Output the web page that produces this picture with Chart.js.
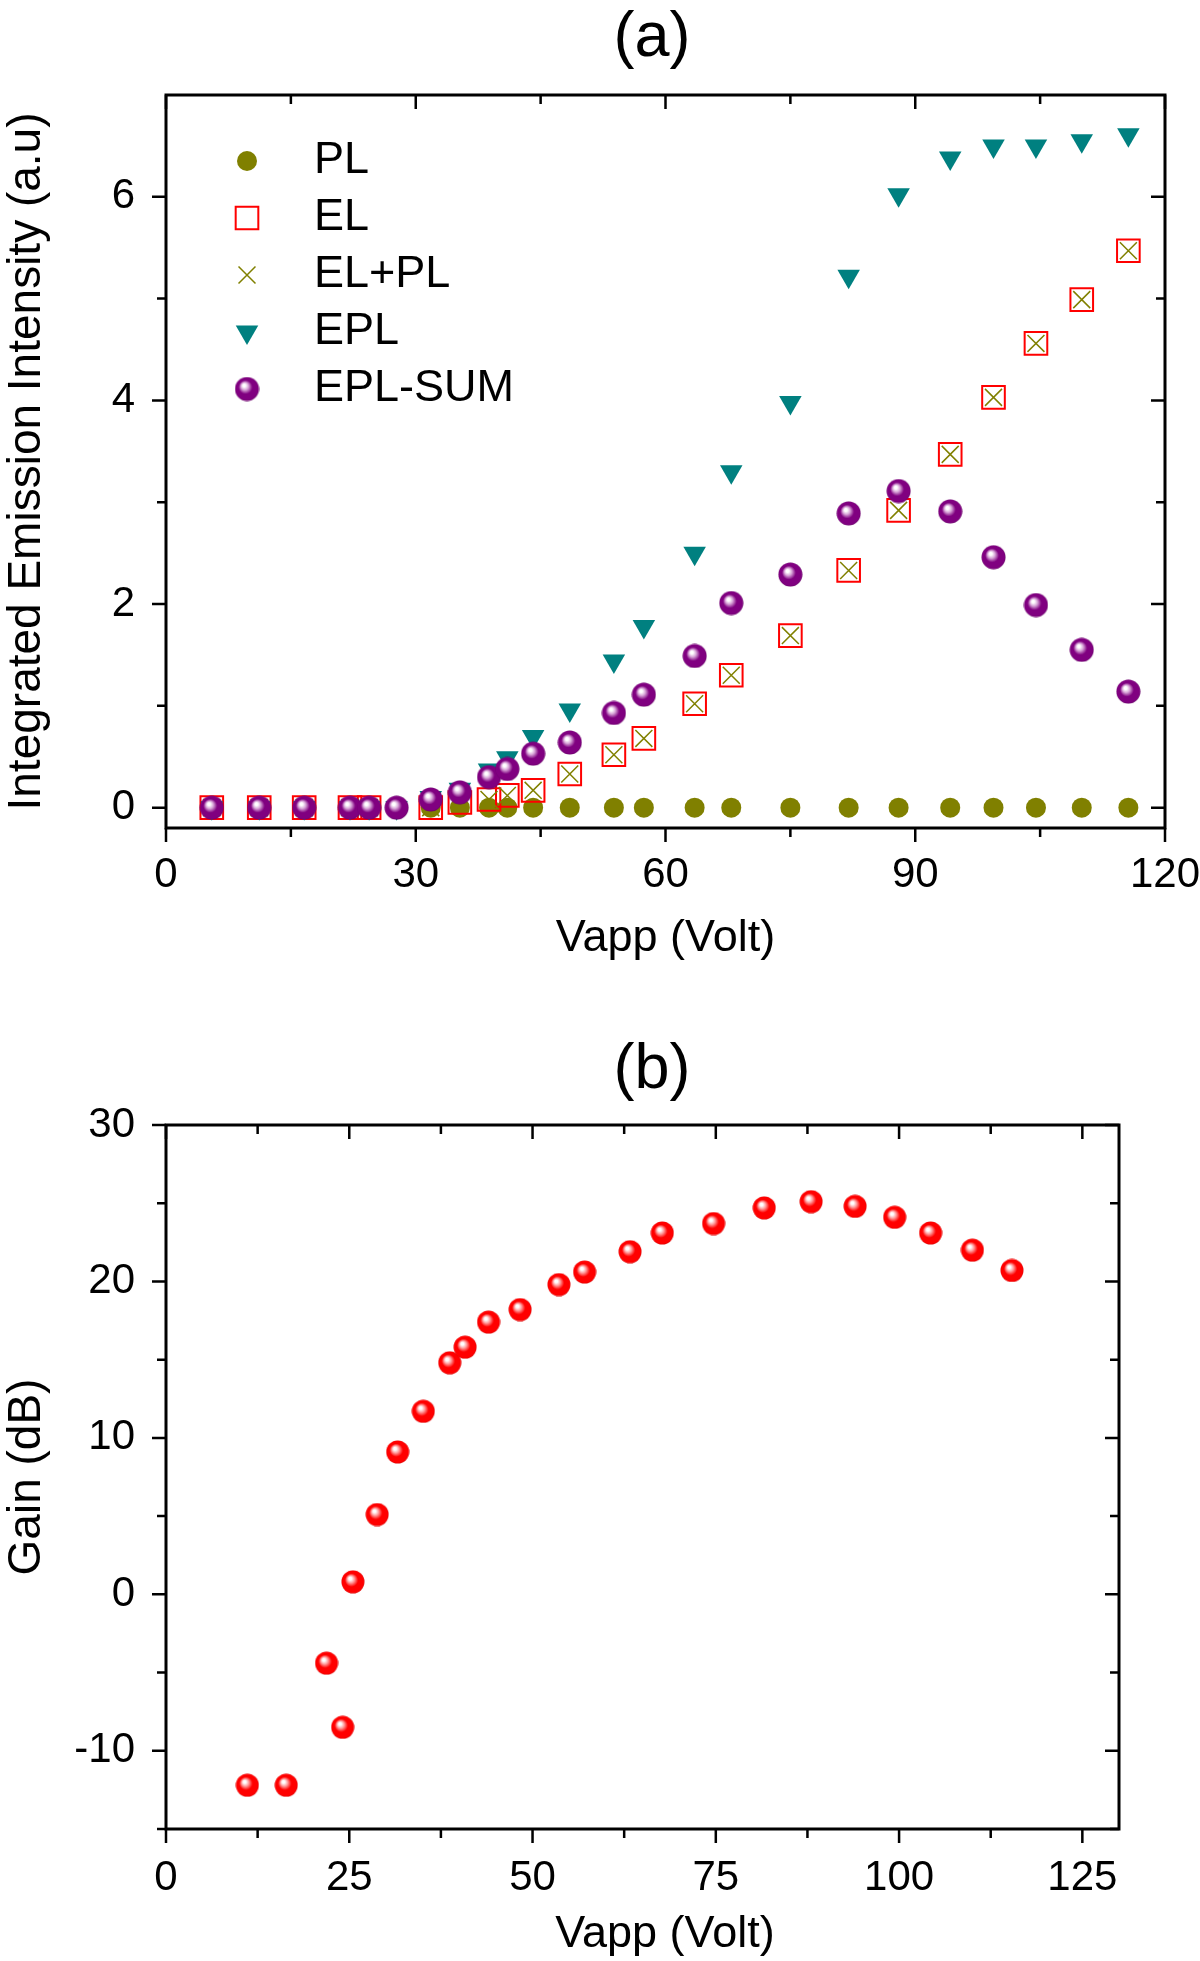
<!DOCTYPE html>
<html lang="en">
<head>
<meta charset="UTF-8">
<title>Emission intensity and gain vs Vapp</title>
<script src="https://cdn.jsdelivr.net/npm/chart.js"></script>
<style>
  body { margin: 0; background: #fff; }
  canvas { display: block; }
</style>
</head>
<body>
<canvas id="chartA" width="1200" height="980"></canvas>
<canvas id="chartB" width="1200" height="981"></canvas>
<script>
// ---- panel (a): integrated emission intensity ----
const vappA = [5.5, 11.2, 16.6, 22.1, 24.4, 27.7, 31.8, 35.3, 38.8, 41.0, 44.1, 48.5,
               53.8, 57.4, 63.5, 67.9, 75.0, 82.0, 88.0, 94.2, 99.4, 104.5, 110.0, 115.6];
const plVals     = [0, 0, 0, 0, 0, 0, 0, 0, 0, 0, 0, 0, 0, 0, 0, 0, 0, 0, 0, 0, 0, 0, 0, 0];
const elVals     = [0, 0, 0, 0, 0, null, 0.0, 0.05, 0.08, 0.12, 0.17, 0.33,
                    0.52, 0.68, 1.02, 1.30, 1.69, 2.33, 2.92, 3.47, 4.03, 4.56, 4.99, 5.47];
const elPlVals   = [0, 0, 0, 0, 0, null, 0.0, 0.05, 0.08, 0.12, 0.17, 0.33,
                    0.52, 0.68, 1.02, 1.30, 1.69, 2.33, 2.92, 3.47, 4.03, 4.56, 4.99, 5.47];
const eplVals    = [0, 0, 0, 0, 0, 0, 0.10, 0.18, 0.37, 0.49, 0.70, 0.96,
                    1.44, 1.78, 2.50, 3.30, 3.98, 5.22, 6.02, 6.38, 6.50, 6.50, 6.55, 6.61];
const eplSumVals = [0, 0, 0, 0, 0, 0, 0.08, 0.15, 0.30, 0.38, 0.53, 0.64,
                    0.93, 1.11, 1.49, 2.01, 2.29, 2.89, 3.11, 2.91, 2.46, 1.99, 1.55, 1.14];
const xMajorA = [0, 30, 60, 90, 120];
const xMinorA = [15, 45, 75, 105];
const yMajorA = [0, 2, 4, 6];
const yMinorA = [1, 3, 5];

// ---- panel (b): gain ----
const vappB = [11.1, 16.4, 21.9, 24.1, 25.5, 28.8, 31.6, 35.1, 38.7, 40.8, 44.0, 48.3,
               53.6, 57.1, 63.3, 67.7, 74.7, 81.6, 88.0, 94.0, 99.4, 104.3, 110.0, 115.4];
const gainVals = [-12.2, -12.2, -4.4, -8.5, 0.8, 5.1, 9.1, 11.7, 14.8, 15.8, 17.4, 18.2,
                  19.8, 20.6, 21.9, 23.1, 23.7, 24.7, 25.1, 24.8, 24.1, 23.1, 22.0, 20.7];
const xMajorB = [0, 25, 50, 75, 100, 125];
const xMinorB = [12.5, 37.5, 62.5, 87.5, 112.5];
const yMajorB = [-10, 0, 10, 20, 30];
const yMinorB = [-15, -5, 5, 15, 25];

const FONT = '"Liberation Sans", Arial, Helvetica, sans-serif';
Chart.defaults.font.family = FONT;
Chart.defaults.color = '#000';

const pts = (xs, ys) => xs.map((x, i) => ({x: x, y: ys[i]}));

// shaded ball marker
function makeBall(d, light, base, dark) {
  const c = document.createElement('canvas');
  c.width = d; c.height = d;
  const g = c.getContext('2d');
  const r = d / 2;
  const grad = g.createRadialGradient(d * 0.37, d * 0.34, 0, r, r, r);
  grad.addColorStop(0, '#ffffff');
  grad.addColorStop(0.12, '#ffffff');
  grad.addColorStop(0.3, light);
  grad.addColorStop(0.55, base);
  grad.addColorStop(0.9, base);
  grad.addColorStop(1, dark);
  g.fillStyle = grad;
  g.beginPath();
  g.arc(r, r, r - 0.5, 0, Math.PI * 2);
  g.fill();
  return c;
}
const purpleBall = makeBall(25, '#d8a6d8', '#800080', '#5e005e');
const redBall = makeBall(24, '#ffa0a0', '#ff0000', '#d00000');

// box frame + major/minor ticks (outward bottom/left, inward top/right)
const frameTicks = {
  id: 'frameTicks',
  afterDraw(chart, args, o) {
    const {ctx, chartArea: a} = chart;
    const xs = chart.scales.x, ys = chart.scales.y;
    ctx.save();
    ctx.strokeStyle = '#000';
    ctx.lineWidth = 2.5;
    ctx.beginPath();
    const xt = o.xMajor.map(v => [v, 14]).concat(o.xMinor.map(v => [v, 9]));
    xt.forEach(([v, len]) => {
      const px = xs.getPixelForValue(v);
      ctx.moveTo(px, a.bottom); ctx.lineTo(px, a.bottom + len);
      ctx.moveTo(px, a.top); ctx.lineTo(px, a.top + len);
    });
    const yt = o.yMajor.map(v => [v, 14]).concat(o.yMinor.map(v => [v, 9]));
    yt.forEach(([v, len]) => {
      const py = ys.getPixelForValue(v);
      ctx.moveTo(a.left - len, py); ctx.lineTo(a.left, py);
      ctx.moveTo(a.right - len, py); ctx.lineTo(a.right, py);
    });
    ctx.stroke();
    ctx.lineWidth = 3;
    ctx.strokeRect(a.left, a.top, a.right - a.left, a.bottom - a.top);
    ctx.restore();
  }
};

// free text: panel letters etc.
const captions = {
  id: 'captions',
  afterDraw(chart, args, o) {
    const ctx = chart.ctx;
    ctx.save();
    ctx.fillStyle = '#000';
    ctx.textAlign = 'center';
    ctx.textBaseline = 'middle';
    o.items.forEach(t => {
      ctx.font = t.size + 'px ' + FONT;
      ctx.fillText(t.text, t.x, t.y);
    });
    ctx.restore();
  }
};

// legend inside the plot, one row per dataset
const insideLegend = {
  id: 'insideLegend',
  afterDraw(chart, args, o) {
    if (!o.display) return;
    const ctx = chart.ctx;
    ctx.save();
    chart.data.datasets.forEach((ds, i) => {
      const y = o.top + i * o.rowGap;
      ctx.fillStyle = ds.backgroundColor;
      ctx.strokeStyle = ds.borderColor;
      ctx.lineWidth = ds.borderWidth;
      Chart.helpers.drawPoint(ctx, {
        pointStyle: ds.pointStyle,
        radius: ds.pointRadius,
        rotation: ds.pointRotation || 0,
        borderWidth: ds.borderWidth
      }, o.markerX, y);
      ctx.fillStyle = '#000';
      ctx.font = o.size + 'px ' + FONT;
      ctx.textAlign = 'left';
      ctx.textBaseline = 'middle';
      ctx.fillText(ds.label, o.textX, y);
    });
    ctx.restore();
  }
};

function fixedTicks(values) {
  return scale => { scale.ticks = values.map(v => ({value: v})); };
}

new Chart(document.getElementById('chartA'), {
  type: 'scatter',
  data: {
    datasets: [
      { label: 'PL', data: pts(vappA, plVals), pointStyle: 'circle', pointRadius: 10,
        backgroundColor: '#808000', borderColor: '#808000', borderWidth: 0, order: 5 },
      { label: 'EL', data: pts(vappA, elVals), pointStyle: 'rect', pointRadius: 16,
        backgroundColor: 'rgba(0,0,0,0)', borderColor: '#ff0000', borderWidth: 2, order: 4 },
      { label: 'EL+PL', data: pts(vappA, elPlVals), pointStyle: 'crossRot', pointRadius: 12,
        backgroundColor: '#808000', borderColor: '#808000', borderWidth: 1.5, order: 3 },
      { label: 'EPL', data: pts(vappA, eplVals), pointStyle: 'triangle', pointRadius: 13, pointRotation: 180,
        backgroundColor: '#008080', borderColor: '#008080', borderWidth: 0, order: 2 },
      { label: 'EPL-SUM', data: pts(vappA, eplSumVals), pointStyle: purpleBall, pointRadius: 12,
        backgroundColor: '#800080', borderColor: '#800080', borderWidth: 0, order: 1 }
    ]
  },
  options: {
    responsive: false,
    animation: false,
    events: [],
    layout: { padding: { top: 95, right: 35, left: 0, bottom: 0 } },
    datasets: { scatter: { clip: false } },
    scales: {
      x: {
        type: 'linear', position: 'bottom', min: 0, max: 120,
        grid: { display: false, drawTicks: false }, border: { display: false },
        ticks: { font: { size: 42 }, padding: 22, autoSkip: false, maxRotation: 0 },
        title: { display: true, text: 'Vapp (Volt)', font: { size: 45 }, padding: { top: 0, bottom: 14 } },
        afterBuildTicks: fixedTicks(xMajorA),
        afterFit: s => { s.height = 152; s.paddingLeft = 0; s.paddingRight = 0; }
      },
      y: {
        type: 'linear', position: 'left', min: -0.2, max: 7,
        grid: { display: false, drawTicks: false }, border: { display: false },
        ticks: { font: { size: 42 }, padding: 31 },
        title: { display: true, text: 'Integrated Emission Intensity (a.u)', font: { size: 46 }, padding: { top: 0, bottom: 0 } },
        afterBuildTicks: fixedTicks(yMajorA),
        afterFit: s => { s.width = 166; s.paddingTop = 0; s.paddingBottom = 0; }
      }
    },
    plugins: {
      legend: { display: false },
      tooltip: { enabled: false },
      frameTicks: { xMajor: xMajorA, xMinor: xMinorA, yMajor: yMajorA, yMinor: yMinorA },
      captions: { items: [ { text: '(a)', x: 652, y: 39, size: 63 } ] },
      insideLegend: { display: true, markerX: 247, textX: 314, top: 161, rowGap: 57, size: 45 }
    }
  },
  plugins: [frameTicks, captions, insideLegend]
});

new Chart(document.getElementById('chartB'), {
  type: 'scatter',
  data: {
    datasets: [
      { label: 'Gain', data: pts(vappB, gainVals), pointStyle: redBall, pointRadius: 12,
        backgroundColor: '#ff0000', borderColor: '#ff0000', borderWidth: 0 }
    ]
  },
  options: {
    responsive: false,
    animation: false,
    events: [],
    layout: { padding: { top: 145, right: 81, left: 0, bottom: 0 } },
    datasets: { scatter: { clip: false } },
    scales: {
      x: {
        type: 'linear', position: 'bottom', min: 0, max: 130,
        grid: { display: false, drawTicks: false }, border: { display: false },
        ticks: { font: { size: 42 }, padding: 24, autoSkip: false, maxRotation: 0 },
        title: { display: false },
        afterBuildTicks: fixedTicks(xMajorB),
        afterFit: s => { s.height = 132; s.paddingLeft = 0; s.paddingRight = 0; }
      },
      y: {
        type: 'linear', position: 'left', min: -15, max: 30,
        grid: { display: false, drawTicks: false }, border: { display: false },
        ticks: { font: { size: 42 }, padding: 31 },
        title: { display: true, text: 'Gain (dB)', font: { size: 46 }, padding: { top: 0, bottom: 0 } },
        afterBuildTicks: fixedTicks(yMajorB),
        afterFit: s => { s.width = 166; s.paddingTop = 0; s.paddingBottom = 0; }
      }
    },
    plugins: {
      legend: { display: false },
      tooltip: { enabled: false },
      frameTicks: { xMajor: xMajorB, xMinor: xMinorB, yMajor: yMajorB, yMinor: yMinorB },
      captions: { items: [
        { text: '(b)', x: 652, y: 91, size: 63 },
        { text: 'Vapp (Volt)', x: 665, y: 955, size: 45 }
      ] },
      insideLegend: { display: false }
    }
  },
  plugins: [frameTicks, captions, insideLegend]
});
</script>
</body>
</html>
